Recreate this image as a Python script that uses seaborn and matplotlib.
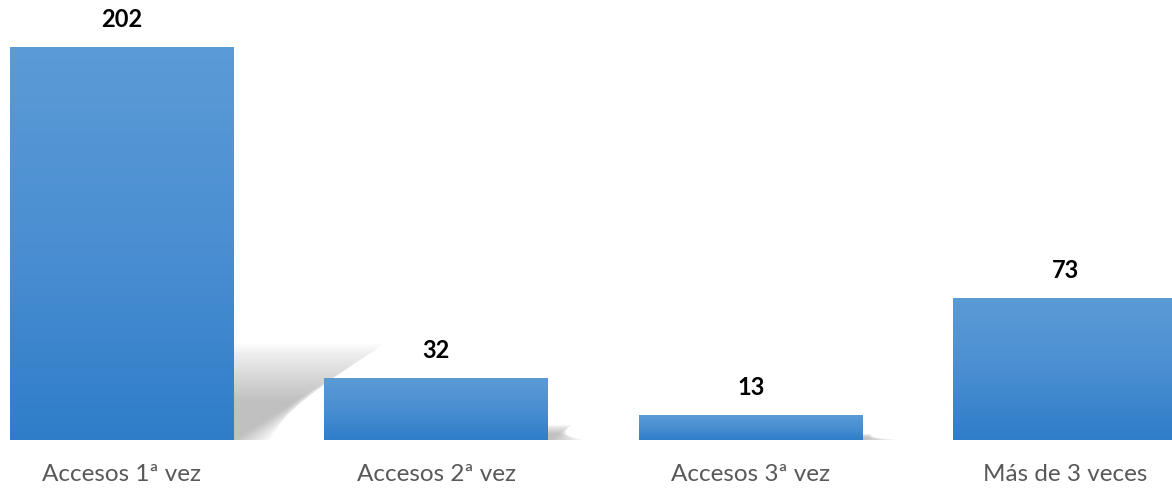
import numpy as np
import pandas as pd
import matplotlib
matplotlib.use("Agg")
import matplotlib.pyplot as plt
import seaborn as sns
from matplotlib.patches import Polygon
from matplotlib.colors import LinearSegmentedColormap

categorias = ["Accesos 1ª vez", "Accesos 2ª vez", "Accesos 3ª vez", "Más de 3 veces"]
accesos = [202, 32, 13, 73]

df = pd.DataFrame({"categoria": categorias, "accesos": accesos})

sns.set_style("white")
plt.rcParams["font.family"] = ["Lato", "DejaVu Sans"]

fig = plt.figure(figsize=(11.72, 4.88), dpi=100)
ax = fig.add_axes([0, 48 / 488, 1, 440 / 488])

ax = sns.barplot(data=df, x="categoria", y="accesos", width=0.712,
                 color="#4a8fd3", ax=ax, zorder=3)

ax.set_xlim(-0.388, 3.340)
ax.set_ylim(0, 226.1)

# px per unit, used for the shadow shear
px_x = 314.33
px_y = 1.946

# soft perspective shadows + gradient fill for each bar
grad = LinearSegmentedColormap.from_list("g", ["#2f7dc9", "#4b8fd2", "#5b9bd6"])
for bar in ax.patches:
    x0 = bar.get_x()
    w = bar.get_width()
    v = bar.get_height()
    h = 0.237 * v
    shift = 1.57 * h * px_y / px_x
    n = 30
    for k in range(n):
        f = 1.04 - k * 0.022
        hh = h * f
        ss = shift * f
        pts = [(x0 + 0.02, 0), (x0 + w + 0.004 * k, 0),
               (x0 + w + ss, hh), (x0 + ss * 0.9, hh)]
        ax.add_patch(Polygon(pts, closed=True, facecolor="#9a9a9a",
                             edgecolor="none", alpha=0.022, zorder=1))
    bar.set_facecolor("none")
    bar.set_edgecolor("none")
    img = ax.imshow(np.linspace(0, 1, 256).reshape(-1, 1), cmap=grad,
                    extent=[x0, x0 + w, 0, v], origin="lower",
                    aspect="auto", zorder=3, interpolation="bicubic")
    img.set_clip_path(bar)
    ax.annotate(str(int(v)), (x0 + w / 2, v), xytext=(0, 19.5),
                textcoords="offset points", ha="center", va="center",
                fontsize=17, fontweight="bold", color="black")

ax.set_xlim(-0.388, 3.340)
ax.set_ylim(0, 226.1)
ax.set_xlabel("")
ax.set_ylabel("")
ax.set_yticks([])
ax.tick_params(axis="x", length=0, pad=17, labelsize=17.5, labelcolor="#595959")
sns.despine(ax=ax, left=True, bottom=True)

fig.savefig("out.png", dpi=100)
